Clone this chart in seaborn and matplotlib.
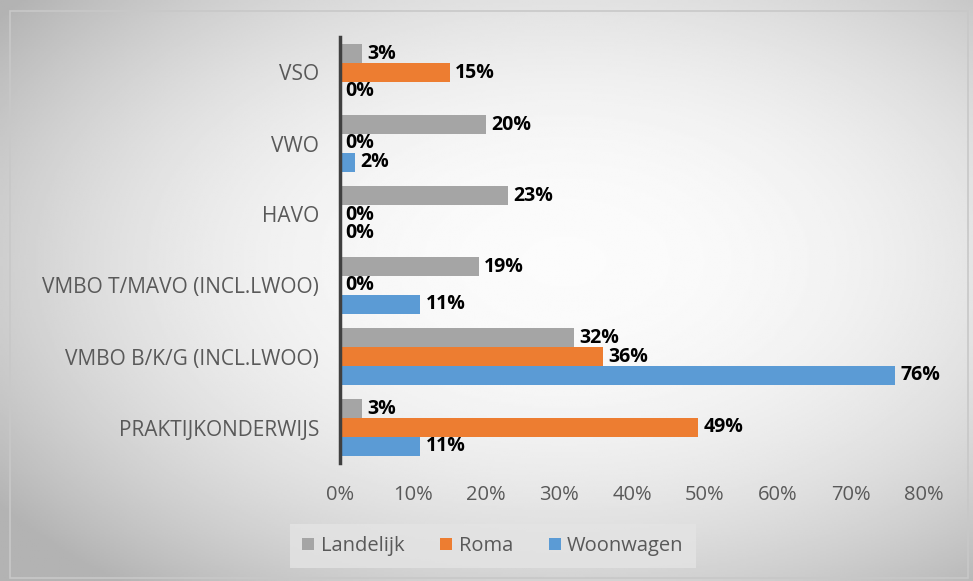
import numpy as np
import pandas as pd
import seaborn as sns
import matplotlib.pyplot as plt
from matplotlib.patches import Rectangle
from matplotlib.ticker import PercentFormatter

# --- DATA ---
categories = ['VSO', 'VWO', 'HAVO', 'VMBO T/MAVO (INCL.LWOO)',
              'VMBO B/K/G (INCL.LWOO)', 'PRAKTIJKONDERWIJS']
landelijk = [3, 20, 23, 19, 32, 3]
roma = [15, 0, 0, 0, 36, 49]
woonwagen = [0, 2, 0, 11, 76, 11]
series = ['Landelijk', 'Roma', 'Woonwagen']
x_ticks = [0, 10, 20, 30, 40, 50, 60, 70, 80]

colors = {'Landelijk': '#A5A5A5', 'Roma': '#ED7D31', 'Woonwagen': '#5B9BD5'}

df = pd.DataFrame({'Categorie': categories, 'Landelijk': landelijk,
                   'Roma': roma, 'Woonwagen': woonwagen})
df = df.melt(id_vars='Categorie', var_name='Serie', value_name='Pct')

# --- STYLE ---
sns.set_theme(style='white')
plt.rcParams['font.family'] = ['Open Sans', 'DejaVu Sans']

fig = plt.figure(figsize=(9.73, 5.81), dpi=100)

# fond dégradé (style Excel)
bg = fig.add_axes([0, 0, 1, 1], zorder=-10)
yy, xx = np.mgrid[0:1:300j, 0:1:500j]
r = np.sqrt(((xx - 0.58) / 0.6) ** 2 + ((yy - 0.55) / 0.6) ** 2)
grad = 0.985 - 0.19 * np.clip(r, 0, 1.2) ** 2.2
bg.imshow(grad, cmap='gray', vmin=0, vmax=1, extent=[0, 1, 0, 1],
          aspect='auto', origin='lower')
bg.set_xlim(0, 1)
bg.set_ylim(0, 1)
bg.axis('off')
fig.patches.append(Rectangle((10 / 973, 3 / 581), 958 / 973, 567 / 581,
                             transform=fig.transFigure, fill=False,
                             edgecolor='#c8c8c8', lw=1.2))

ax = fig.add_axes([340 / 973, 1 - 463 / 581, 584 / 973, 426 / 581])
ax.set_facecolor('none')

sns.barplot(data=df, y='Categorie', x='Pct', hue='Serie', hue_order=series,
            palette=colors, orient='h', width=0.8, saturation=1, linewidth=0, ax=ax)

for cont in ax.containers:
    ax.bar_label(cont, labels=[f'{w:.0f}%' for w in cont.datavalues],
                 padding=4, fontsize=14, fontweight='bold', color='black')

ax.set_xlim(0, 80)
ax.set_xticks(x_ticks)
ax.xaxis.set_major_formatter(PercentFormatter(decimals=0))
ax.set_xlabel('')
ax.set_ylabel('')
ax.tick_params(axis='x', length=0, labelsize=14.5, labelcolor='#595959', pad=16)
ax.tick_params(axis='y', length=0, labelsize=15, labelcolor='#595959', pad=15)
for s in ['top', 'right', 'bottom']:
    ax.spines[s].set_visible(False)
ax.spines['left'].set_color('#404040')
ax.spines['left'].set_linewidth(2.5)

ax.get_legend().remove()
handles, labels = ax.get_legend_handles_labels()
leg = fig.legend(handles, labels, loc='center', bbox_to_anchor=(493 / 973, 1 - 546 / 581),
                 ncol=3, frameon=True, fontsize=14.5, handlelength=0.6, handleheight=0.6,
                 handletextpad=0.3, columnspacing=1.8, borderpad=0.6, fancybox=False)
leg.get_frame().set_facecolor('#e4e4e4')
leg.get_frame().set_edgecolor('none')
for t in leg.get_texts():
    t.set_color('#595959')

plt.savefig('out.png', dpi=100)
plt.close()
